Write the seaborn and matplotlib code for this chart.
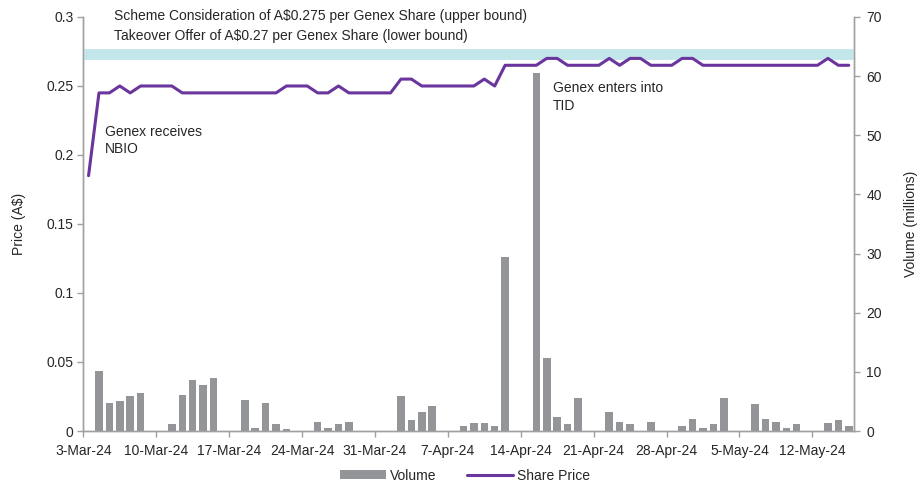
import pandas as pd
import numpy as np
import matplotlib
matplotlib.use("Agg")
import matplotlib.pyplot as plt
import seaborn as sns
from matplotlib.patches import Patch
from matplotlib.lines import Line2D
from matplotlib.ticker import FuncFormatter

sns.set_theme(style="white")
plt.rcParams['font.family'] = ['Liberation Sans', 'DejaVu Sans']

# --- data ---
START = "2024-03-03"

# share price, one value per calendar day from 3-Mar-24 to 15-May-24 (weekends carry the last close)
price = [
    0.185, 0.245, 0.245, 0.25, 0.245, 0.25, 0.25,        # 3-Mar .. 9-Mar
    0.25, 0.25, 0.245, 0.245, 0.245, 0.245, 0.245,       # 10-Mar .. 16-Mar
    0.245, 0.245, 0.245, 0.245, 0.245, 0.25, 0.25,       # 17-Mar .. 23-Mar
    0.25, 0.245, 0.245, 0.25, 0.245, 0.245, 0.245,       # 24-Mar .. 30-Mar
    0.245, 0.245, 0.255, 0.255, 0.25, 0.25, 0.25,        # 31-Mar .. 6-Apr
    0.25, 0.25, 0.25, 0.255, 0.25, 0.265, 0.265,         # 7-Apr .. 13-Apr
    0.265, 0.265, 0.27, 0.27, 0.265, 0.265, 0.265,       # 14-Apr .. 20-Apr
    0.265, 0.27, 0.265, 0.27, 0.27, 0.265, 0.265,        # 21-Apr .. 27-Apr
    0.265, 0.27, 0.27, 0.265, 0.265, 0.265, 0.265,       # 28-Apr .. 4-May
    0.265, 0.265, 0.265, 0.265, 0.265, 0.265, 0.265,     # 5-May .. 11-May
    0.265, 0.27, 0.265, 0.265,                           # 12-May .. 15-May
]

vol_dates = [
    "2024-03-04", "2024-03-05", "2024-03-06", "2024-03-07", "2024-03-08",
    "2024-03-11", "2024-03-12", "2024-03-13", "2024-03-14", "2024-03-15",
    "2024-03-18", "2024-03-19", "2024-03-20", "2024-03-21", "2024-03-22",
    "2024-03-25", "2024-03-26", "2024-03-27", "2024-03-28",
    "2024-04-02", "2024-04-03", "2024-04-04", "2024-04-05",
    "2024-04-08", "2024-04-09", "2024-04-10", "2024-04-11", "2024-04-12",
    "2024-04-15", "2024-04-16", "2024-04-17", "2024-04-18", "2024-04-19",
    "2024-04-22", "2024-04-23", "2024-04-24", "2024-04-26",
    "2024-04-29", "2024-04-30", "2024-05-01", "2024-05-02", "2024-05-03",
    "2024-05-06", "2024-05-07", "2024-05-08", "2024-05-09", "2024-05-10",
    "2024-05-13", "2024-05-14", "2024-05-15",
]
volume = [
    10.2, 4.8, 5.1, 5.9, 6.4,
    1.1, 6.1, 8.7, 7.7, 9.0,
    5.3, 0.5, 4.8, 1.1, 0.35,
    1.6, 0.56, 1.1, 1.6,
    5.9, 1.9, 3.2, 4.3,
    0.85, 1.35, 1.35, 0.85, 29.5,
    60.5, 12.4, 2.4, 1.1, 5.6,
    3.2, 1.6, 1.1, 1.6,
    0.85, 2.1, 0.56, 1.1, 5.6,
    4.6, 2.1, 1.6, 0.56, 1.1,
    1.35, 1.9, 0.85,
]

band_low, band_high = 0.27, 0.275
tick_dates = pd.date_range(START, "2024-05-12", freq="7D")

PURPLE = "#6a359c"
GREY = "#939598"
BAND = "#c3e6eb"
SPINE = "#a0a0a0"
TEXT = "#262626"

# positions in days from the start, marks sit in the middle of their day
start = pd.Timestamp(START)
price_x = np.arange(len(price)) + 0.5
vol_x = (pd.to_datetime(vol_dates) - start).days.values + 0.5
df_vol = pd.DataFrame({"x": vol_x, "volume": volume})
df_price = pd.DataFrame({"x": price_x, "price": price})

fig = plt.figure(figsize=(9.24, 4.84), dpi=100)
ax = fig.add_axes([0.0902, 0.1095, 0.9242 - 0.0902, 0.9649 - 0.1095])
ax2 = ax.twinx()

# volume bars on the right axis
sns.barplot(data=df_vol, x="x", y="volume", ax=ax2, native_scale=True,
            color=GREY, saturation=1, width=0.72, edgecolor="none")

# price on the left axis, drawn above the bars
ax.set_zorder(ax2.get_zorder() + 1)
ax.patch.set_visible(False)
ax.axhspan(band_low, band_high, color=BAND, lw=2.8, zorder=1)
sns.lineplot(data=df_price, x="x", y="price", ax=ax, color=PURPLE, lw=2.2, zorder=3)

ax.set_xlim(0, 74)
ax.set_ylim(0, 0.3)
ax2.set_ylim(0, 70)
ax.set_yticks(np.arange(0, 0.31, 0.05))
ax.yaxis.set_major_formatter(FuncFormatter(lambda v, p: f"{v:g}"))
ax2.set_yticks(np.arange(0, 71, 10))

tick_pos = (tick_dates - start).days.values
ax.set_xticks(tick_pos)
ax.set_xticklabels([f"{d.day}-{d.strftime('%b-%y')}" for d in tick_dates])

ax.set_xlabel("")
ax2.set_xlabel("")
ax.set_ylabel("Price (A$)", fontsize=10, color=TEXT, labelpad=15)
ax2.set_ylabel("Volume (millions)", fontsize=10, color=TEXT, labelpad=16)

for a in (ax, ax2):
    a.grid(False)
    a.spines["top"].set_visible(False)
    for s in ("left", "right", "bottom"):
        a.spines[s].set_color(SPINE)
        a.spines[s].set_linewidth(1.0)
    a.tick_params(axis="both", which="major", direction="out", length=4, width=1,
                  color=SPINE, labelsize=10, labelcolor=TEXT, pad=3)
ax.tick_params(axis="x", bottom=True, pad=5)
ax.tick_params(axis="y", left=True, right=False)
ax2.tick_params(axis="y", right=True, left=False, pad=5)

# annotations
ax.text(2.95, 0.3055, "Scheme Consideration of A$0.275 per Genex Share (upper bound)",
        fontsize=10, color=TEXT, va="top", ha="left", clip_on=False)
ax.text(2.95, 0.2915, "Takeover Offer of A$0.27 per Genex Share (lower bound)",
        fontsize=10, color=TEXT, va="top", ha="left", clip_on=False)
ax.text(2.1, 0.222, "Genex receives\nNBIO", fontsize=10, color=TEXT,
        va="top", ha="left", linespacing=1.35)
ax.text(45.1, 0.2535, "Genex enters into\nTID", fontsize=10, color=TEXT,
        va="top", ha="left", linespacing=1.35)

handles = [Patch(facecolor=GREY, edgecolor="none", label="Volume"),
           Line2D([0], [0], color=PURPLE, lw=2.2, label="Share Price")]
fig.legend(handles=handles, loc="center", bbox_to_anchor=(0.503, 0.017), ncol=2,
           frameon=False, fontsize=10, handlelength=3.3, handleheight=0.6,
           handletextpad=0.3, columnspacing=2.2, labelcolor=TEXT)

fig.savefig("out.png", dpi=100)
